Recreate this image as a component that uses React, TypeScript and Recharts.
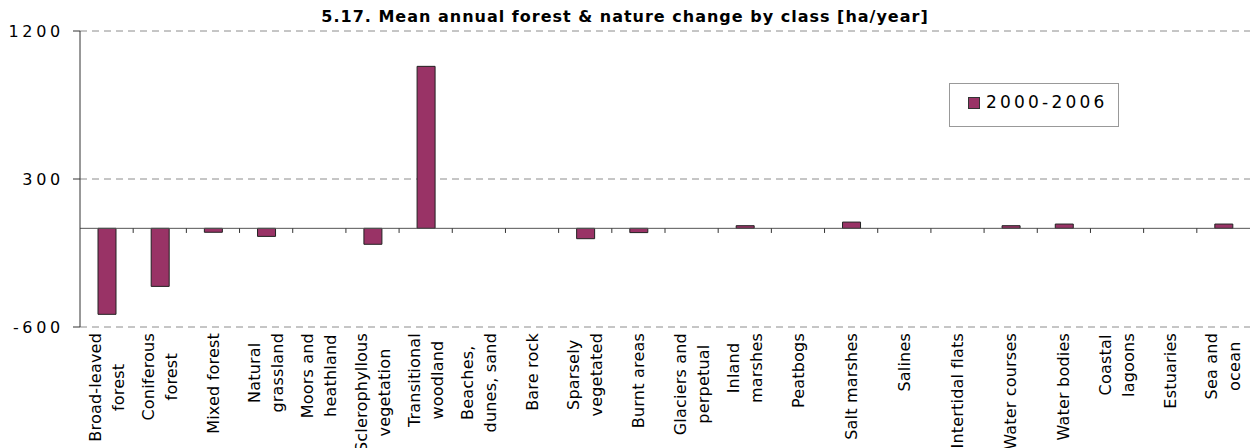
import React from 'react';
import { BarChart, Bar, XAxis, YAxis, CartesianGrid, ReferenceLine, Legend } from 'recharts';

const title = '5.17. Mean annual forest & nature change by class [ha/year]';
const seriesName = '2000-2006';

const categories = [
  'Broad-leaved\nforest',
  'Coniferous\nforest',
  'Mixed forest',
  'Natural\ngrassland',
  'Moors and\nheathland',
  'Sclerophyllous\nvegetation',
  'Transitional\nwoodland',
  'Beaches,\ndunes, sand',
  'Bare rock',
  'Sparsely\nvegetated',
  'Burnt areas',
  'Glaciers and\nperpetual',
  'Inland\nmarshes',
  'Peatbogs',
  'Salt marshes',
  'Salines',
  'Intertidal flats',
  'Water courses',
  'Water bodies',
  'Coastal\nlagoons',
  'Estuaries',
  'Sea and\nocean',
];

const values2000to2006 = [
  -523, -353, -24, -49, 0, -97, 985, 0, 0, -63, -26, 0, 16, 0, 38, 0, 0, 16, 26, 0, 0, 26,
];

const yTicks = [-600, 300, 1200];
const yDomain = [-600, 1200];

const data = categories.map((name, i) => ({ name, v: values2000to2006[i] }));
// tick marks on the zero line sit at the start of every category band except the first
const boundaryCategories = categories.slice(1);

const FONT = '"DejaVu Sans", Verdana, sans-serif';
const BAR_COLOR = '#993366';

let ctx: CanvasRenderingContext2D | null = null;
function measure(text: string, size: number, spacing: number): number {
  if (!ctx) ctx = document.createElement('canvas').getContext('2d');
  if (!ctx) return text.length * size * 0.6;
  ctx.font = `${size}px "DejaVu Sans"`;
  return ctx.measureText(text).width + spacing * text.length;
}

const LABEL_SIZE = 16;
const LABEL_SPACING = 0.2;

const XTick = (props: any) => {
  const { x, y, payload } = props;
  const lines = String(payload.value).split('\n');
  const maxW = Math.max(...lines.map((l) => measure(l, LABEL_SIZE, LABEL_SPACING)));
  const top = y + 6;
  const cy = top + maxW / 2;
  const gap = 23;
  return (
    <g>
      {lines.map((l, i) => {
        const cx = x + (i - (lines.length - 1) / 2) * gap;
        return (
          <text
            key={i}
            x={cx}
            y={cy}
            transform={`rotate(-90, ${cx}, ${cy})`}
            textAnchor="middle"
            dy="0.35em"
            fontSize={LABEL_SIZE}
            letterSpacing={LABEL_SPACING}
            fontFamily={FONT}
            fill="#000"
          >
            {l}
          </text>
        );
      })}
    </g>
  );
};

const YTick = (props: any) => {
  const { x, y, payload } = props;
  return (
    <text
      x={x - 7}
      y={y}
      dy="0.35em"
      textAnchor="end"
      fontSize={16}
      letterSpacing={3.7}
      fontFamily={FONT}
      fill="#000"
    >
      {payload.value}
    </text>
  );
};

const LegendBox = (props: any) => {
  const item = props.payload && props.payload[0];
  return (
    <div
      style={{
        position: 'relative',
        width: 170,
        height: 44,
        border: '1px solid #999',
        boxSizing: 'border-box',
        background: '#fff',
      }}
    >
      <span
        style={{
          position: 'absolute',
          left: 18,
          top: 13,
          width: 12,
          height: 12,
          background: item ? item.color : BAR_COLOR,
          border: '1px solid #333',
          boxSizing: 'border-box',
        }}
      />
      <span
        style={{
          position: 'absolute',
          left: 36,
          top: 10,
          fontFamily: FONT,
          fontSize: 17,
          lineHeight: '17px',
          letterSpacing: 3.2,
          color: '#000',
          whiteSpace: 'nowrap',
        }}
      >
        {item ? item.value : seriesName}
      </span>
    </div>
  );
};

export default function App() {
  return (
    <div style={{ position: 'absolute', left: 0, top: 0, width: 1250, height: 448, background: '#fff' }}>
      <div
        style={{
          position: 'absolute',
          left: 0,
          top: 9,
          width: 1250,
          textAlign: 'center',
          fontFamily: FONT,
          fontWeight: 'bold',
          fontSize: 16,
          lineHeight: '16px',
          letterSpacing: 1,
          color: '#000',
          zIndex: 2,
        }}
      >
        {title}
      </div>
      <BarChart width={1250} height={448} data={data} margin={{ top: 31, right: 0, left: 0, bottom: 0 }}>
        <CartesianGrid horizontal vertical={false} stroke="#8c8c8c" strokeDasharray="7 5" />
        <XAxis
          dataKey="name"
          height={121}
          interval={0}
          axisLine={false}
          tickLine={false}
          tickSize={0}
          tickMargin={0}
          tick={<XTick />}
        />
        <YAxis
          type="number"
          domain={yDomain}
          ticks={yTicks}
          interval={0}
          width={80}
          tickSize={7}
          axisLine={{ stroke: '#333' }}
          tickLine={{ stroke: '#333' }}
          tick={<YTick />}
        />
        <Bar
          dataKey="v"
          name={seriesName}
          fill={BAR_COLOR}
          stroke="#222"
          strokeWidth={1}
          barSize={18}
          isAnimationActive={false}
        />
        <ReferenceLine y={0} stroke="#555" strokeWidth={1} />
        {boundaryCategories.map((c) => (
          <ReferenceLine
            key={c}
            position="start"
            segment={[
              { x: c, y: 0 },
              { x: c, y: -28 },
            ]}
            stroke="#333"
            strokeWidth={1}
          />
        ))}
        <Legend
          layout="vertical"
          align="center"
          verticalAlign="middle"
          wrapperStyle={{ left: 949, top: 83, width: 170, height: 44 }}
          content={<LegendBox />}
        />
      </BarChart>
    </div>
  );
}
